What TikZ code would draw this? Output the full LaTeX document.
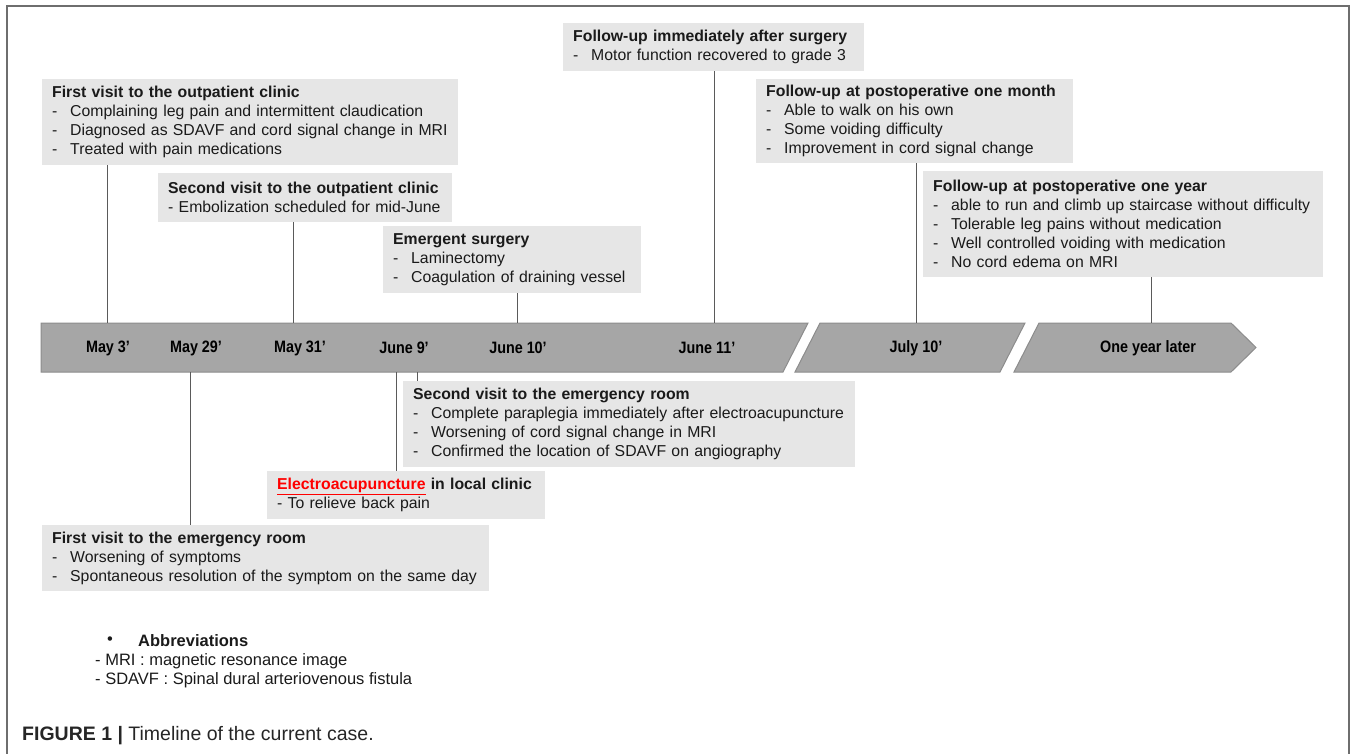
\documentclass[tikz,border=0pt]{standalone}
\usepackage{fontspec}
\setmainfont{Liberation Sans}
\definecolor{boxgray}{HTML}{E6E6E6}
\definecolor{bargray}{HTML}{A6A6A6}
\definecolor{barline}{HTML}{8C8C8C}
\definecolor{conngray}{HTML}{5A5A5A}
\definecolor{framegray}{HTML}{6E6E6E}
\definecolor{txt}{HTML}{1A1A1A}
\newcommand\itm[1]{\mbox{\makebox[18pt][l]{-}#1}}
\newcommand\oneline[1]{\mbox{#1}}
\begin{document}
\begin{tikzpicture}[x=1pt,y=-1pt,
  evbox/.style={fill=boxgray, anchor=north west, inner xsep=10pt, inner ysep=0pt,
    align=left, text=txt, font=\fontsize{15.8}{19}\selectfont},
  datelbl/.style={font=\fontsize{16.5}{19}\selectfont\bfseries, text=black, inner sep=0pt},
  conn/.style={draw=conngray, line width=0.9pt},
  barseg/.style={fill=bargray, draw=barline, line width=1pt, line join=miter}]
\useasboundingbox (0,0) rectangle (1358,754);
% frame
\draw[framegray, line width=1.3pt] (7,754) -- (7,6) -- (1349,6) -- (1349,754);

% timeline bar
\path[barseg] (41,323) -- (808,323) -- (783,372) -- (41,372) -- cycle;
\path[barseg] (820,323) -- (1025,323) -- (1000,372) -- (795,372) -- cycle;
\path[barseg] (1039,323) -- (1231,323) -- (1256,347.5) -- (1231,372) -- (1014,372) -- cycle;

% dates
\node[datelbl] (d1) at (108,348) {\scalebox{0.87}[1]{May 3’}};
\node[datelbl] (d2) at (196,348) {\scalebox{0.87}[1]{May 29’}};
\node[datelbl] (d3) at (300,348) {\scalebox{0.87}[1]{May 31’}};
\node[datelbl] (d4) at (404,348) {\scalebox{0.87}[1]{June 9’}};
\node[datelbl] (d5) at (518,348) {\scalebox{0.87}[1]{June 10’}};
\node[datelbl] (d6) at (707,348) {\scalebox{0.87}[1]{June 11’}};
\node[datelbl] (d7) at (916,348) {\scalebox{0.87}[1]{July 10’}};
\node[datelbl] (d8) at (1148,348) {\scalebox{0.87}[1]{One year later}};

% boxes
\node[evbox, text width=396pt, minimum height=86pt] (b1) at (42,79)
  {\oneline{\textbf{First visit to the outpatient clinic}}\\
   \itm{Complaining leg pain and intermittent claudication}\\
   \itm{Diagnosed as SDAVF and cord signal change in MRI}\\
   \itm{Treated with pain medications}};
\node[evbox, text width=274pt, minimum height=49pt] (b2) at (158,173)
  {\oneline{\textbf{Second visit to the outpatient clinic}}\\
   \oneline{- Embolization scheduled for mid-June}};
\node[evbox, text width=238pt, minimum height=67pt] (b3) at (383,226)
  {\oneline{\textbf{Emergent surgery}}\\
   \itm{Laminectomy}\\
   \itm{Coagulation of draining vessel}};
\node[evbox, text width=281pt, minimum height=48pt] (b4) at (563,23)
  {\oneline{\textbf{Follow-up immediately after surgery}}\\
   \itm{Motor function recovered to grade 3}};
\node[evbox, text width=297pt, minimum height=84pt] (b5) at (756,79)
  {\oneline{\textbf{Follow-up at postoperative one month}}\\
   \itm{Able to walk on his own}\\
   \itm{Some voiding difficulty}\\
   \itm{Improvement in cord signal change}};
\node[evbox, text width=380pt, minimum height=106pt] (b6) at (923,171)
  {\oneline{\textbf{Follow-up at postoperative one year}}\\
   \itm{able to run and climb up staircase without difficulty}\\
   \itm{Tolerable leg pains without medication}\\
   \itm{Well controlled voiding with medication}\\
   \itm{No cord edema on MRI}};
\node[evbox, text width=432pt, minimum height=86pt] (b7) at (403,381)
  {\oneline{\textbf{Second visit to the emergency room}}\\
   \itm{Complete paraplegia immediately after electroacupuncture}\\
   \itm{Worsening of cord signal change in MRI}\\
   \itm{Confirmed the location of SDAVF on angiography}};
\node[evbox, text width=258pt, minimum height=48pt] (b8) at (267,471)
  {\oneline{\textbf{\textcolor{red}{\underline{Electroacupuncture}} in local clinic}}\\
   \oneline{- To relieve back pain}};
\node[evbox, text width=427pt, minimum height=66pt] (b9) at (42,525)
  {\oneline{\textbf{First visit to the emergency room}}\\
   \itm{Worsening of symptoms}\\
   \itm{Spontaneous resolution of the symptom on the same day}};

% tick coordinates
\coordinate (t1) at (107,323);
\coordinate (t2) at (190,372);
\coordinate (t3) at (293,323);
\coordinate (t4) at (396,372);
\coordinate (t5) at (417,372);
\coordinate (t6) at (517,323);
\coordinate (t7) at (714,323);
\coordinate (t8) at (916,323);
\coordinate (t9) at (1151,323);

% connectors
\draw[conn] (b1.south -| t1) -- (t1);
\draw[conn] (t2) -- (b9.north -| t2);
\draw[conn] (b2.south -| t3) -- (t3);
\draw[conn] (t4) -- (b8.north -| t4);
\draw[conn] (t5) -- (b7.north -| t5);
\draw[conn] (b3.south -| t6) -- (t6);
\draw[conn] (b4.south -| t7) -- (t7);
\draw[conn] (b5.south -| t8) -- (t8);
\draw[conn] (b6.south -| t9) -- (t9);

% abbreviations
\node[font=\fontsize{16.5}{19.5}\selectfont, text=txt, inner sep=0pt] (bul) at (110,641) {•};
\node[font=\fontsize{16.5}{19.5}\selectfont\bfseries, text=txt, anchor=west, inner sep=0pt] (abt) at (138,641) {Abbreviations};
\node[font=\fontsize{16.5}{19.5}\selectfont, text=txt, anchor=north west, inner sep=0pt, align=left] (abl) at (95,653)
  {- MRI : magnetic resonance image\\- SDAVF : Spinal dural arteriovenous fistula};

% caption
\node[font=\fontsize{19.5}{22}\selectfont, text={black!85}, anchor=west, inner sep=0pt] (cap) at (22,736)
  {\textbf{FIGURE 1 |} Timeline of the current case.};
\end{tikzpicture}
\end{document}
